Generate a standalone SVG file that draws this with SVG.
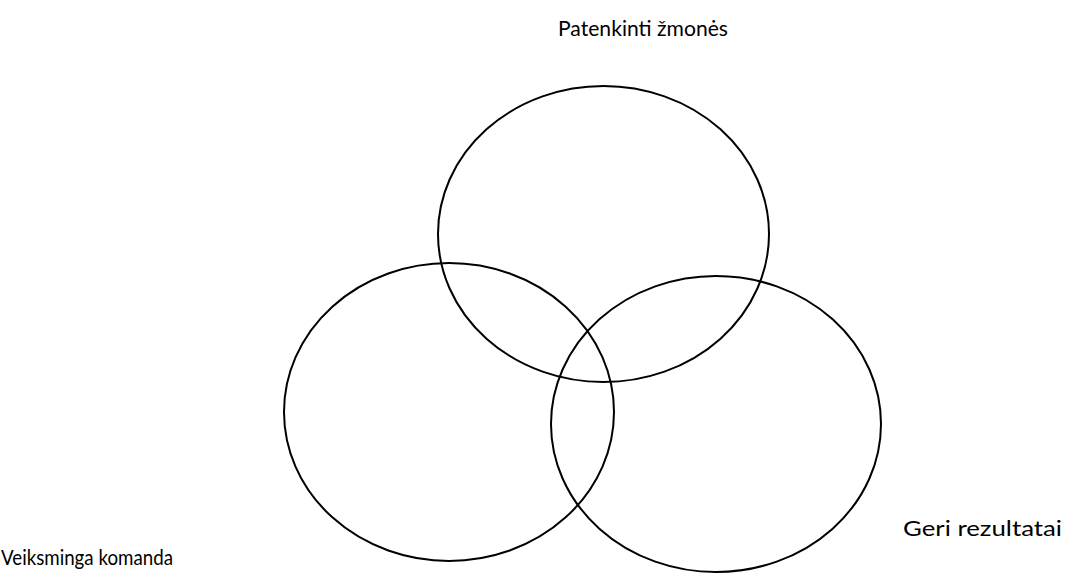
<svg xmlns="http://www.w3.org/2000/svg" width="1077" height="579" viewBox="0 0 1077 579">
<style>
.c{fill:none;stroke:#000;stroke-width:2}
.t{font-family:Lato,"Open Sans","Liberation Sans",sans-serif;font-size:21px;fill:#000}
</style>
<rect width="1077" height="579" fill="#fff"/>
<g id="top"><ellipse class="c" cx="603.5" cy="234" rx="165.5" ry="148"/><text class="t" x="558" y="36" textLength="170" lengthAdjust="spacingAndGlyphs">Patenkinti žmonės</text></g>
<g id="left"><ellipse class="c" cx="449" cy="412" rx="165" ry="149"/><text class="t" x="1" y="565" textLength="172" lengthAdjust="spacingAndGlyphs">Veiksminga komanda</text></g>
<g id="right"><ellipse class="c" cx="716" cy="424" rx="165" ry="148"/><text class="t" x="903" y="536" textLength="159" lengthAdjust="spacingAndGlyphs">Geri rezultatai</text></g>
<g id="connectors"/>
</svg>
